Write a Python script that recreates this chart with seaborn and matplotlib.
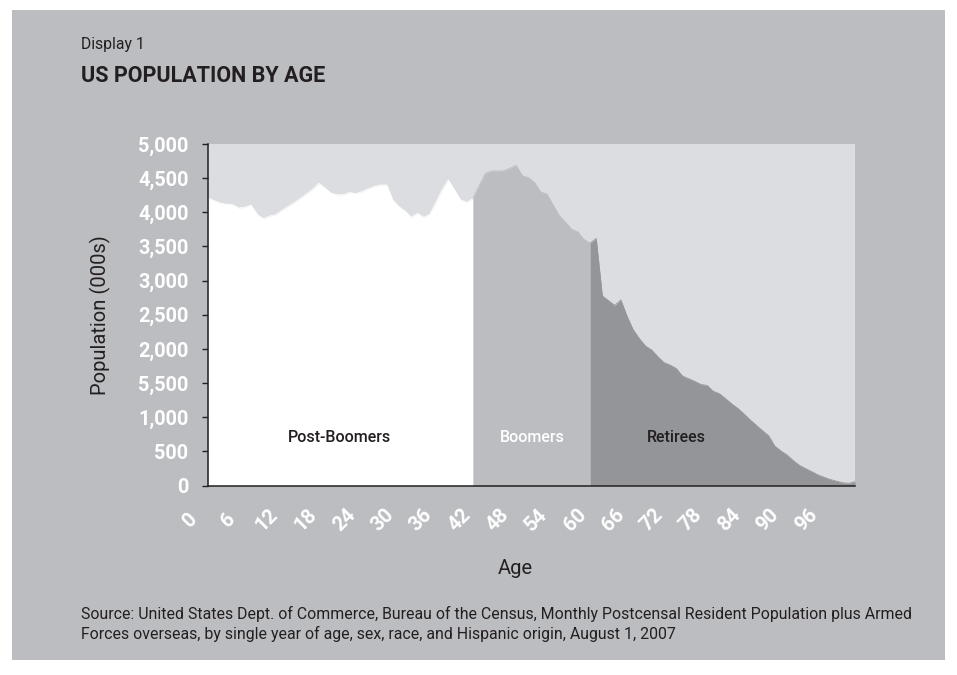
import matplotlib
matplotlib.use("Agg")
import matplotlib.pyplot as plt
import numpy as np
import pandas as pd
import seaborn as sns
from matplotlib.patches import Rectangle

# US resident population (thousands) by single year of age, August 2007
ages = list(range(0, 106))
population = [
    4205, 4170, 4135, 4119, 4110, 4062, 4075, 4105, 3966, 3905,
    3945, 3965, 4028, 4086, 4139, 4203, 4271, 4337, 4425, 4353,
    4278, 4256, 4258, 4290, 4272, 4302, 4341, 4379, 4400, 4400,
    4177, 4083, 4015, 3927, 3985, 3925, 3974, 4145, 4330, 4473,
    4328, 4180, 4145, 4202, 4389, 4568, 4605, 4605, 4608, 4645,
    4688, 4536, 4506, 4436, 4297, 4268, 4108, 3953, 3858, 3753,
    3715, 3605, 3546, 3616, 2775, 2706, 2637, 2716, 2480, 2281,
    2151, 2042, 1984, 1887, 1800, 1763, 1713, 1603, 1564, 1524,
    1479, 1465, 1379, 1344, 1271, 1195, 1129, 1047, 960, 880,
    802, 726, 575, 505, 445, 363, 294, 247, 202, 155,
    120, 88, 63, 40, 32, 56,
]

# Generations: name, first age, last age, fill colour, label colour, label position
groups = ["Post-Boomers", "Boomers", "Retirees"]
group_start = [0, 43, 62]
group_end = [43, 62, 105]
group_fill = ["#ffffff", "#bcbdc0", "#939598"]
group_text = ["#231f20", "#ffffff", "#231f20"]
group_label_x = [21.4, 52.6, 76.0]
group_label_y = [710, 710, 710]

y_ticks = [0, 500, 1000, 1500, 2000, 2500, 3000, 3500, 4000, 4500, 5000]
y_tick_labels = ["0", "500", "1,000", "5,500", "2,000", "2,500",
                 "3,000", "3,500", "4,000", "4,500", "5,000"]
age_ticks = list(range(0, 97, 6))

PANEL = "#bcbdc0"
PLOT_BG = "#dcdde0"
DARK = "#231f20"

sns.set_theme(style="white")
plt.rcParams["font.family"] = ["Roboto", "DejaVu Sans"]

W, H = 957, 675
fig = plt.figure(figsize=(W / 100, H / 100), dpi=100, facecolor="white")

# grey card behind everything
fig.patches.append(Rectangle((12 / W, 15 / H), 933 / W, 650 / H,
                             transform=fig.transFigure, facecolor=PANEL,
                             edgecolor="none", zorder=-10))

ax = fig.add_axes([208 / W, (H - 485.5) / H, 647 / W, 341.5 / H])
ax.set_zorder(2)
ax.set_facecolor(PLOT_BG)

df = pd.DataFrame({"age": ages, "population": population})
for name, a0, a1, fill, tcol, lx, ly in zip(groups, group_start, group_end,
                                            group_fill, group_text,
                                            group_label_x, group_label_y):
    part = df[(df["age"] >= a0) & (df["age"] <= a1)]
    ax.fill_between(part["age"], 0, part["population"], color=fill,
                    linewidth=0, zorder=2)
    sns.lineplot(data=part, x="age", y="population", color=fill,
                 linewidth=0.6, ax=ax, zorder=3)
    ax.text(lx, ly, name, ha="center", va="center", fontsize=11.5,
            color=tcol, fontweight="medium", zorder=4)

ax.set_xlim(0, 105)
ax.set_ylim(0, 5000)
ax.set_yticks(y_ticks)
ax.set_yticklabels(y_tick_labels)
ax.tick_params(axis="y", left=True, length=4, width=1, color=DARK, pad=10,
               labelsize=14.3, labelcolor="white")
for t in ax.get_yticklabels():
    t.set_fontweight("bold")
ax.tick_params(axis="x", bottom=False, labelbottom=False)

for s in ["top", "right"]:
    ax.spines[s].set_visible(False)
for s in ["left", "bottom"]:
    ax.spines[s].set_color(DARK)
    ax.spines[s].set_linewidth(1.1)
    ax.spines[s].set_zorder(5)

ax.set_ylabel("Population (000s)", fontsize=14.5, color=DARK, va="center")
ax.yaxis.set_label_coords((100 - 208) / 647, (485.5 - 315) / 341.5)
ax.set_xlabel("Age", fontsize=14.5, color=DARK, va="center")
ax.xaxis.set_label_coords((515 - 208) / 647, (485.5 - 568) / 341.5)

# rotated age labels along the bottom
lab = fig.add_axes([190 / W, (H - 520) / H, 616 / W, 0.0005])
lab.set_zorder(2)
lab.set_xlim(0, 96)
lab.set_xticks(age_ticks)
lab.set_xticklabels([str(a) for a in age_ticks])
lab.set_yticks([])
lab.patch.set_visible(False)
for s in lab.spines.values():
    s.set_visible(False)
lab.tick_params(axis="x", length=0, pad=0, labelsize=14.5, labelcolor="white")
for t in lab.get_xticklabels():
    t.set_rotation(45)
    t.set_ha("center")
    t.set_va("center")
    t.set_fontweight("bold")

fig.text(81 / W, 1 - 44 / H, "Display 1", fontsize=11.3, color=DARK,
         va="center", ha="left")
fig.text(81 / W, 1 - 75.5 / H, "US POPULATION BY AGE", fontsize=15.5,
         fontweight="bold", color=DARK, va="center", ha="left")
fig.text(81 / W, 1 - 606 / H,
         "Source: United States Dept. of Commerce, Bureau of the Census, Monthly "
         "Postcensal Resident Population plus Armed\nForces overseas, by single "
         "year of age, sex, race, and Hispanic origin, August 1, 2007",
         fontsize=11.4, color=DARK, va="top", ha="left", linespacing=1.3)

fig.savefig("out.png", dpi=100, facecolor="white")
